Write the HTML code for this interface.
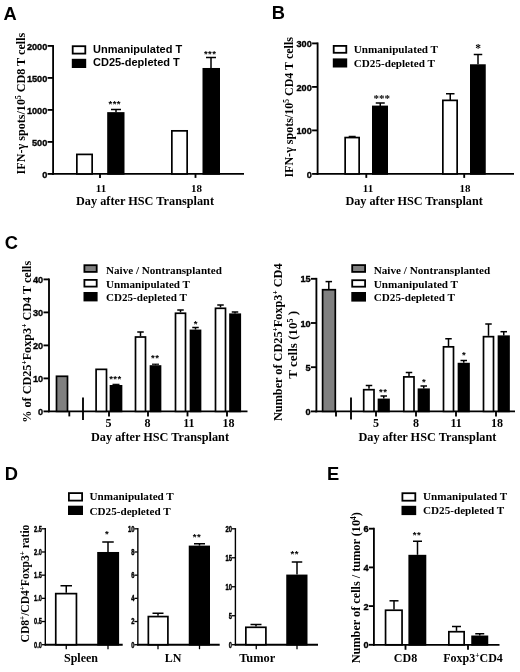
<!DOCTYPE html>
<html><head><meta charset="utf-8"><title>Figure</title>
<style>html,body{margin:0;padding:0;background:#fff}svg{display:block}text{fill:#000}</style>
</head><body>
<svg width="520" height="672" viewBox="0 0 520 672">
<rect width="520" height="672" fill="#fff"/>
<text transform="translate(3.6 19.6) scale(1.03 1)" font-family="'Liberation Sans', sans-serif" font-weight="bold" font-size="17.8">A</text>
<text transform="translate(271.8 19.1) scale(1.03 1)" font-family="'Liberation Sans', sans-serif" font-weight="bold" font-size="17.8">B</text>
<text transform="translate(4.800000000000001 248.79999999999998) scale(1.03 1)" font-family="'Liberation Sans', sans-serif" font-weight="bold" font-size="17.8">C</text>
<text transform="translate(4.800000000000001 479.6) scale(1.03 1)" font-family="'Liberation Sans', sans-serif" font-weight="bold" font-size="17.8">D</text>
<text transform="translate(326.90000000000003 479.8) scale(1.03 1)" font-family="'Liberation Sans', sans-serif" font-weight="bold" font-size="17.8">E</text>
<line x1="53.1" y1="45.075" x2="53.1" y2="174.82500000000002" stroke="#000" stroke-width="1.85"/>
<line x1="52.175000000000004" y1="173.9" x2="244" y2="173.9" stroke="#000" stroke-width="1.85"/>
<line x1="47.6" y1="173.9" x2="53.1" y2="173.9" stroke="#000" stroke-width="1.85"/>
<text x="47.300000000000004" y="177.5" font-family="'Liberation Sans', sans-serif" font-weight="bold" font-size="9.7" text-anchor="end" stroke="#000" stroke-width="0.35" textLength="5.1" lengthAdjust="spacingAndGlyphs">0</text>
<line x1="47.6" y1="141.9" x2="53.1" y2="141.9" stroke="#000" stroke-width="1.85"/>
<text x="47.300000000000004" y="145.5" font-family="'Liberation Sans', sans-serif" font-weight="bold" font-size="9.7" text-anchor="end" stroke="#000" stroke-width="0.35" textLength="15.3" lengthAdjust="spacingAndGlyphs">500</text>
<line x1="47.6" y1="109.9" x2="53.1" y2="109.9" stroke="#000" stroke-width="1.85"/>
<text x="47.300000000000004" y="113.5" font-family="'Liberation Sans', sans-serif" font-weight="bold" font-size="9.7" text-anchor="end" stroke="#000" stroke-width="0.35" textLength="20.4" lengthAdjust="spacingAndGlyphs">1000</text>
<line x1="47.6" y1="77.9" x2="53.1" y2="77.9" stroke="#000" stroke-width="1.85"/>
<text x="47.300000000000004" y="81.5" font-family="'Liberation Sans', sans-serif" font-weight="bold" font-size="9.7" text-anchor="end" stroke="#000" stroke-width="0.35" textLength="20.4" lengthAdjust="spacingAndGlyphs">1500</text>
<line x1="47.6" y1="45.900000000000006" x2="53.1" y2="45.900000000000006" stroke="#000" stroke-width="1.85"/>
<text x="47.300000000000004" y="49.50000000000001" font-family="'Liberation Sans', sans-serif" font-weight="bold" font-size="9.7" text-anchor="end" stroke="#000" stroke-width="0.35" textLength="20.4" lengthAdjust="spacingAndGlyphs">2000</text>
<line x1="100" y1="173.9" x2="100" y2="177.9" stroke="#000" stroke-width="1.85"/>
<line x1="195.5" y1="173.9" x2="195.5" y2="177.9" stroke="#000" stroke-width="1.85"/>
<rect x="76.85" y="154.398" width="15.3" height="19.502000000000002" fill="#fff" stroke="#000" stroke-width="1.7"/>
<rect x="108.05" y="112.99000000000001" width="15.599999999999998" height="60.90999999999999" fill="#000" stroke="#000" stroke-width="1.7"/>
<line x1="116" y1="109.5" x2="116" y2="112.14000000000001" stroke="#000" stroke-width="1.5"/>
<line x1="111.0" y1="109.5" x2="121.0" y2="109.5" stroke="#000" stroke-width="1.5"/>
<rect x="171.85" y="130.846" width="15.3" height="43.053999999999995" fill="#fff" stroke="#000" stroke-width="1.7"/>
<rect x="203.35" y="68.83" width="15.8" height="105.07000000000001" fill="#000" stroke="#000" stroke-width="1.7"/>
<line x1="211" y1="57.5" x2="211" y2="67.98" stroke="#000" stroke-width="1.5"/>
<line x1="206.0" y1="57.5" x2="216.0" y2="57.5" stroke="#000" stroke-width="1.5"/>
<text x="114.8" y="106.5" font-family="'Liberation Sans', sans-serif" font-weight="bold" font-size="9.6" text-anchor="middle" letter-spacing="0.4">***</text>
<text x="210.2" y="56.8" font-family="'Liberation Sans', sans-serif" font-weight="bold" font-size="9.6" text-anchor="middle" letter-spacing="0.4">***</text>
<text x="101" y="192" font-family="'Liberation Serif', serif" font-weight="bold" font-size="11" text-anchor="middle">11</text>
<text x="196.5" y="192" font-family="'Liberation Serif', serif" font-weight="bold" font-size="11" text-anchor="middle">18</text>
<text x="145" y="204.7" font-family="'Liberation Serif', serif" font-weight="bold" font-size="12.3" text-anchor="middle" textLength="138" lengthAdjust="spacingAndGlyphs">Day after HSC Transplant</text>
<text x="25.5" y="103.6" font-family="'Liberation Serif', serif" font-weight="bold" font-size="12.3" text-anchor="middle" transform="rotate(-90 25.5 103.6)" textLength="141.7" lengthAdjust="spacingAndGlyphs">IFN-γ spots/10<tspan dy="-4" font-size="7.5">5</tspan><tspan dy="4"> CD8 T cells</tspan></text>
<rect x="72.7" y="46.199999999999996" width="12.600000000000005" height="7.400000000000003" fill="#fff" stroke="#000" stroke-width="1.8"/>
<text x="93" y="53.44" font-family="'Liberation Sans', sans-serif" font-weight="bold" font-size="11" text-anchor="start">Unmanipulated T</text>
<rect x="72.7" y="59.699999999999996" width="12.600000000000005" height="7.400000000000003" fill="#000" stroke="#000" stroke-width="1.8"/>
<text x="93" y="66.34" font-family="'Liberation Sans', sans-serif" font-weight="bold" font-size="11" text-anchor="start">CD25-depleted T</text>
<line x1="317.6" y1="42.475" x2="317.6" y2="174.82500000000002" stroke="#000" stroke-width="1.85"/>
<line x1="316.675" y1="173.9" x2="514" y2="173.9" stroke="#000" stroke-width="1.85"/>
<line x1="312.1" y1="173.9" x2="317.6" y2="173.9" stroke="#000" stroke-width="1.85"/>
<text x="311.8" y="177.5" font-family="'Liberation Sans', sans-serif" font-weight="bold" font-size="9.7" text-anchor="end" stroke="#000" stroke-width="0.35" textLength="5.1" lengthAdjust="spacingAndGlyphs">0</text>
<line x1="312.1" y1="130.4" x2="317.6" y2="130.4" stroke="#000" stroke-width="1.85"/>
<text x="311.8" y="134.0" font-family="'Liberation Sans', sans-serif" font-weight="bold" font-size="9.7" text-anchor="end" stroke="#000" stroke-width="0.35" textLength="15.3" lengthAdjust="spacingAndGlyphs">100</text>
<line x1="312.1" y1="86.9" x2="317.6" y2="86.9" stroke="#000" stroke-width="1.85"/>
<text x="311.8" y="90.5" font-family="'Liberation Sans', sans-serif" font-weight="bold" font-size="9.7" text-anchor="end" stroke="#000" stroke-width="0.35" textLength="15.3" lengthAdjust="spacingAndGlyphs">200</text>
<line x1="312.1" y1="43.400000000000006" x2="317.6" y2="43.400000000000006" stroke="#000" stroke-width="1.85"/>
<text x="311.8" y="47.00000000000001" font-family="'Liberation Sans', sans-serif" font-weight="bold" font-size="9.7" text-anchor="end" stroke="#000" stroke-width="0.35" textLength="15.3" lengthAdjust="spacingAndGlyphs">300</text>
<line x1="366.3" y1="173.9" x2="366.3" y2="177.9" stroke="#000" stroke-width="1.85"/>
<line x1="464.2" y1="173.9" x2="464.2" y2="177.9" stroke="#000" stroke-width="1.85"/>
<rect x="345.15000000000003" y="137.5575" width="13.99999999999999" height="36.342499999999994" fill="#fff" stroke="#000" stroke-width="1.7"/>
<line x1="352.2" y1="136.3595" x2="352.2" y2="136.7075" stroke="#000" stroke-width="1.2"/>
<line x1="348.7" y1="136.3595" x2="355.7" y2="136.3595" stroke="#000" stroke-width="1.2"/>
<rect x="372.85" y="106.455" width="14.3" height="67.44500000000001" fill="#000" stroke="#000" stroke-width="1.7"/>
<line x1="380.25" y1="103" x2="380.25" y2="106.04" stroke="#000" stroke-width="1.5"/>
<line x1="375.75" y1="103" x2="384.75" y2="103" stroke="#000" stroke-width="1.5"/>
<rect x="442.85" y="100.365" width="14.3" height="73.53500000000001" fill="#fff" stroke="#000" stroke-width="1.7"/>
<line x1="450.25" y1="93.75" x2="450.25" y2="99.95" stroke="#000" stroke-width="1.5"/>
<line x1="446.0" y1="93.75" x2="454.5" y2="93.75" stroke="#000" stroke-width="1.5"/>
<rect x="470.85" y="65.13" width="14.05" height="108.77000000000001" fill="#000" stroke="#000" stroke-width="1.7"/>
<line x1="478" y1="54.5" x2="478" y2="64.28" stroke="#000" stroke-width="1.5"/>
<line x1="473.75" y1="54.5" x2="482.25" y2="54.5" stroke="#000" stroke-width="1.5"/>
<text x="381.8" y="102.4" font-family="'Liberation Serif', serif" font-weight="bold" font-size="11" text-anchor="middle">***</text>
<text x="478" y="51.8" font-family="'Liberation Serif', serif" font-weight="bold" font-size="11.5" text-anchor="middle">*</text>
<text x="368" y="192" font-family="'Liberation Serif', serif" font-weight="bold" font-size="11" text-anchor="middle">11</text>
<text x="465" y="192" font-family="'Liberation Serif', serif" font-weight="bold" font-size="11" text-anchor="middle">18</text>
<text x="414.1" y="204.7" font-family="'Liberation Serif', serif" font-weight="bold" font-size="12.3" text-anchor="middle" textLength="137.4" lengthAdjust="spacingAndGlyphs">Day after HSC Transplant</text>
<text x="293.1" y="107.3" font-family="'Liberation Serif', serif" font-weight="bold" font-size="12.2" text-anchor="middle" transform="rotate(-90 293.1 107.3)" textLength="140.6" lengthAdjust="spacingAndGlyphs">IFN-γ spots/10<tspan dy="-4" font-size="7.5">5</tspan><tspan dy="4"> CD4 T cells</tspan></text>
<rect x="333.7" y="45.9" width="12.599999999999977" height="6.900000000000003" fill="#fff" stroke="#000" stroke-width="1.8"/>
<text x="353.75" y="52.84100000000001" font-family="'Liberation Serif', serif" font-weight="bold" font-size="11.15" text-anchor="start">Unmanipulated T</text>
<rect x="333.7" y="59.3" width="12.599999999999977" height="7.300000000000002" fill="#000" stroke="#000" stroke-width="1.8"/>
<text x="353.75" y="66.941" font-family="'Liberation Serif', serif" font-weight="bold" font-size="11.15" text-anchor="start">CD25-depleted T</text>
<line x1="49" y1="278.47499999999997" x2="49" y2="412.325" stroke="#000" stroke-width="1.85"/>
<line x1="48.075" y1="411.4" x2="247.5" y2="411.4" stroke="#000" stroke-width="1.85"/>
<line x1="43.5" y1="411.4" x2="49" y2="411.4" stroke="#000" stroke-width="1.85"/>
<text x="43.2" y="415.0" font-family="'Liberation Sans', sans-serif" font-weight="bold" font-size="9.7" text-anchor="end" stroke="#000" stroke-width="0.35" textLength="5.1" lengthAdjust="spacingAndGlyphs">0</text>
<line x1="43.5" y1="378.4" x2="49" y2="378.4" stroke="#000" stroke-width="1.85"/>
<text x="43.2" y="382.0" font-family="'Liberation Sans', sans-serif" font-weight="bold" font-size="9.7" text-anchor="end" stroke="#000" stroke-width="0.35" textLength="10.2" lengthAdjust="spacingAndGlyphs">10</text>
<line x1="43.5" y1="345.4" x2="49" y2="345.4" stroke="#000" stroke-width="1.85"/>
<text x="43.2" y="349.0" font-family="'Liberation Sans', sans-serif" font-weight="bold" font-size="9.7" text-anchor="end" stroke="#000" stroke-width="0.35" textLength="10.2" lengthAdjust="spacingAndGlyphs">20</text>
<line x1="43.5" y1="312.4" x2="49" y2="312.4" stroke="#000" stroke-width="1.85"/>
<text x="43.2" y="316.0" font-family="'Liberation Sans', sans-serif" font-weight="bold" font-size="9.7" text-anchor="end" stroke="#000" stroke-width="0.35" textLength="10.2" lengthAdjust="spacingAndGlyphs">30</text>
<line x1="43.5" y1="279.4" x2="49" y2="279.4" stroke="#000" stroke-width="1.85"/>
<text x="43.2" y="283.0" font-family="'Liberation Sans', sans-serif" font-weight="bold" font-size="9.7" text-anchor="end" stroke="#000" stroke-width="0.35" textLength="10.2" lengthAdjust="spacingAndGlyphs">40</text>
<line x1="69.3" y1="411.4" x2="69.3" y2="416.4" stroke="#000" stroke-width="1.85"/>
<line x1="109" y1="411.4" x2="109" y2="416.4" stroke="#000" stroke-width="1.85"/>
<line x1="148" y1="411.4" x2="148" y2="416.4" stroke="#000" stroke-width="1.85"/>
<line x1="187.5" y1="411.4" x2="187.5" y2="416.4" stroke="#000" stroke-width="1.85"/>
<line x1="227" y1="411.4" x2="227" y2="416.4" stroke="#000" stroke-width="1.85"/>
<line x1="83" y1="397.5" x2="83" y2="420" stroke="#000" stroke-width="1.85"/>
<rect x="56.5" y="376.28" width="10.999999999999996" height="35.120000000000026" fill="#808080" stroke="#000" stroke-width="1.7"/>
<rect x="96.1" y="369.35" width="10.399999999999995" height="42.049999999999976" fill="#fff" stroke="#000" stroke-width="1.7"/>
<rect x="110.5" y="385.85" width="10.99999999999999" height="25.549999999999976" fill="#000" stroke="#000" stroke-width="1.7"/>
<line x1="116" y1="384.34" x2="116" y2="385.0" stroke="#000" stroke-width="1.2"/>
<line x1="112.5" y1="384.34" x2="119.5" y2="384.34" stroke="#000" stroke-width="1.2"/>
<rect x="135.5" y="337.01" width="9.99999999999999" height="74.39000000000001" fill="#fff" stroke="#000" stroke-width="1.7"/>
<line x1="140.5" y1="332" x2="140.5" y2="336.15999999999997" stroke="#000" stroke-width="1.5"/>
<line x1="137.25" y1="332" x2="143.75" y2="332" stroke="#000" stroke-width="1.5"/>
<rect x="150.5" y="366.05" width="9.99999999999999" height="45.34999999999999" fill="#000" stroke="#000" stroke-width="1.7"/>
<line x1="155.5" y1="364.21" x2="155.5" y2="365.2" stroke="#000" stroke-width="1.2"/>
<line x1="152.0" y1="364.21" x2="159.0" y2="364.21" stroke="#000" stroke-width="1.2"/>
<rect x="175.5" y="313.25" width="9.99999999999999" height="98.15" fill="#fff" stroke="#000" stroke-width="1.7"/>
<line x1="180.5" y1="310" x2="180.5" y2="312.4" stroke="#000" stroke-width="1.5"/>
<line x1="177.25" y1="310" x2="183.75" y2="310" stroke="#000" stroke-width="1.5"/>
<rect x="190.5" y="330.40999999999997" width="9.99999999999999" height="80.99000000000004" fill="#000" stroke="#000" stroke-width="1.7"/>
<line x1="195.5" y1="327.5" x2="195.5" y2="329.55999999999995" stroke="#000" stroke-width="1.5"/>
<line x1="192.25" y1="327.5" x2="198.75" y2="327.5" stroke="#000" stroke-width="1.5"/>
<rect x="215.5" y="308.3" width="9.99999999999999" height="103.1" fill="#fff" stroke="#000" stroke-width="1.7"/>
<line x1="220.5" y1="305" x2="220.5" y2="307.45" stroke="#000" stroke-width="1.5"/>
<line x1="217.25" y1="305" x2="223.75" y2="305" stroke="#000" stroke-width="1.5"/>
<rect x="230.0" y="314.24" width="10.24999999999999" height="97.16" fill="#000" stroke="#000" stroke-width="1.7"/>
<line x1="235" y1="312" x2="235" y2="313.39" stroke="#000" stroke-width="1.5"/>
<line x1="231.75" y1="312" x2="238.25" y2="312" stroke="#000" stroke-width="1.5"/>
<text x="115.4" y="381.8" font-family="'Liberation Sans', sans-serif" font-weight="bold" font-size="9.6" text-anchor="middle" letter-spacing="0.4">***</text>
<text x="155.2" y="361.05" font-family="'Liberation Sans', sans-serif" font-weight="bold" font-size="9.6" text-anchor="middle" letter-spacing="0.4">**</text>
<text x="195.7" y="327.0" font-family="'Liberation Sans', sans-serif" font-weight="bold" font-size="9.6" text-anchor="middle" letter-spacing="0.4">*</text>
<text x="108.5" y="427" font-family="'Liberation Serif', serif" font-weight="bold" font-size="12" text-anchor="middle">5</text>
<text x="147.4" y="427" font-family="'Liberation Serif', serif" font-weight="bold" font-size="12" text-anchor="middle">8</text>
<text x="188.8" y="427" font-family="'Liberation Serif', serif" font-weight="bold" font-size="12" text-anchor="middle">11</text>
<text x="228.5" y="427" font-family="'Liberation Serif', serif" font-weight="bold" font-size="12" text-anchor="middle">18</text>
<text x="160" y="441.4" font-family="'Liberation Serif', serif" font-weight="bold" font-size="12.3" text-anchor="middle" textLength="138" lengthAdjust="spacingAndGlyphs">Day after HSC Transplant</text>
<text x="30.5" y="341.75" font-family="'Liberation Serif', serif" font-weight="bold" font-size="12.3" text-anchor="middle" transform="rotate(-90 30.5 341.75)" textLength="162" lengthAdjust="spacingAndGlyphs">% of CD25<tspan dy="-4" font-size="7.5">+</tspan><tspan dy="4">Foxp3</tspan><tspan dy="-4" font-size="7.5">+</tspan><tspan dy="4"> CD4 T cells</tspan></text>
<rect x="84.4" y="265.2" width="12.299999999999994" height="6.7" fill="#808080" stroke="#000" stroke-width="1.8"/>
<text x="106" y="273.92400000000004" font-family="'Liberation Serif', serif" font-weight="bold" font-size="11.1" text-anchor="start">Naive / Nontransplanted</text>
<rect x="84.4" y="279.9" width="12.299999999999994" height="6.7" fill="#fff" stroke="#000" stroke-width="1.8"/>
<text x="106" y="287.724" font-family="'Liberation Serif', serif" font-weight="bold" font-size="11.1" text-anchor="start">Unmanipulated T</text>
<rect x="84.4" y="292.9" width="12.299999999999994" height="7.599999999999977" fill="#000" stroke="#000" stroke-width="1.8"/>
<text x="106" y="301.074" font-family="'Liberation Serif', serif" font-weight="bold" font-size="11.1" text-anchor="start">CD25-depleted T</text>
<line x1="316.4" y1="277.875" x2="316.4" y2="412.325" stroke="#000" stroke-width="1.85"/>
<line x1="315.47499999999997" y1="411.4" x2="515" y2="411.4" stroke="#000" stroke-width="1.85"/>
<line x1="310.9" y1="411.4" x2="316.4" y2="411.4" stroke="#000" stroke-width="1.85"/>
<text x="310.59999999999997" y="415.0" font-family="'Liberation Sans', sans-serif" font-weight="bold" font-size="9.7" text-anchor="end" stroke="#000" stroke-width="0.35" textLength="5.1" lengthAdjust="spacingAndGlyphs">0</text>
<line x1="310.9" y1="367.2" x2="316.4" y2="367.2" stroke="#000" stroke-width="1.85"/>
<text x="310.59999999999997" y="370.8" font-family="'Liberation Sans', sans-serif" font-weight="bold" font-size="9.7" text-anchor="end" stroke="#000" stroke-width="0.35" textLength="5.1" lengthAdjust="spacingAndGlyphs">5</text>
<line x1="310.9" y1="323.0" x2="316.4" y2="323.0" stroke="#000" stroke-width="1.85"/>
<text x="310.59999999999997" y="326.6" font-family="'Liberation Sans', sans-serif" font-weight="bold" font-size="9.7" text-anchor="end" stroke="#000" stroke-width="0.35" textLength="10.2" lengthAdjust="spacingAndGlyphs">10</text>
<line x1="310.9" y1="278.79999999999995" x2="316.4" y2="278.79999999999995" stroke="#000" stroke-width="1.85"/>
<text x="310.59999999999997" y="282.4" font-family="'Liberation Sans', sans-serif" font-weight="bold" font-size="9.7" text-anchor="end" stroke="#000" stroke-width="0.35" textLength="10.2" lengthAdjust="spacingAndGlyphs">15</text>
<line x1="336" y1="411.4" x2="336" y2="416.4" stroke="#000" stroke-width="1.85"/>
<line x1="376" y1="411.4" x2="376" y2="416.4" stroke="#000" stroke-width="1.85"/>
<line x1="416" y1="411.4" x2="416" y2="416.4" stroke="#000" stroke-width="1.85"/>
<line x1="456" y1="411.4" x2="456" y2="416.4" stroke="#000" stroke-width="1.85"/>
<line x1="496" y1="411.4" x2="496" y2="416.4" stroke="#000" stroke-width="1.85"/>
<line x1="351" y1="397.5" x2="351" y2="419.5" stroke="#000" stroke-width="1.85"/>
<rect x="322.6" y="289.7276" width="12.700000000000035" height="121.67240000000001" fill="#808080" stroke="#000" stroke-width="1.7"/>
<line x1="328.8" y1="281.6" x2="328.8" y2="288.8776" stroke="#000" stroke-width="1.5"/>
<line x1="325.55" y1="281.6" x2="332.05" y2="281.6" stroke="#000" stroke-width="1.5"/>
<rect x="363.7" y="389.708" width="10.300000000000058" height="21.69199999999997" fill="#fff" stroke="#000" stroke-width="1.7"/>
<line x1="369" y1="385.5" x2="369" y2="388.858" stroke="#000" stroke-width="1.5"/>
<line x1="365.75" y1="385.5" x2="372.25" y2="385.5" stroke="#000" stroke-width="1.5"/>
<rect x="378.5" y="399.432" width="10.500000000000046" height="11.967999999999984" fill="#000" stroke="#000" stroke-width="1.7"/>
<line x1="383.75" y1="396" x2="383.75" y2="398.582" stroke="#000" stroke-width="1.5"/>
<line x1="380.5" y1="396" x2="387.0" y2="396" stroke="#000" stroke-width="1.5"/>
<rect x="403.8" y="376.89" width="10.200000000000035" height="34.51000000000001" fill="#fff" stroke="#000" stroke-width="1.7"/>
<line x1="409" y1="372.5" x2="409" y2="376.03999999999996" stroke="#000" stroke-width="1.5"/>
<line x1="405.75" y1="372.5" x2="412.25" y2="372.5" stroke="#000" stroke-width="1.5"/>
<rect x="418.5" y="389.266" width="10.500000000000046" height="22.13399999999998" fill="#000" stroke="#000" stroke-width="1.7"/>
<line x1="423.75" y1="386" x2="423.75" y2="388.416" stroke="#000" stroke-width="1.5"/>
<line x1="420.5" y1="386" x2="427.0" y2="386" stroke="#000" stroke-width="1.5"/>
<rect x="443.5" y="346.834" width="10.000000000000046" height="64.566" fill="#fff" stroke="#000" stroke-width="1.7"/>
<line x1="448.5" y1="338.75" x2="448.5" y2="345.984" stroke="#000" stroke-width="1.5"/>
<line x1="445.25" y1="338.75" x2="451.75" y2="338.75" stroke="#000" stroke-width="1.5"/>
<rect x="458.5" y="363.63" width="10.500000000000046" height="47.77" fill="#000" stroke="#000" stroke-width="1.7"/>
<line x1="463.75" y1="360.5" x2="463.75" y2="362.78" stroke="#000" stroke-width="1.5"/>
<line x1="460.5" y1="360.5" x2="467.0" y2="360.5" stroke="#000" stroke-width="1.5"/>
<rect x="483.5" y="336.668" width="10.000000000000046" height="74.732" fill="#fff" stroke="#000" stroke-width="1.7"/>
<line x1="488.5" y1="324" x2="488.5" y2="335.818" stroke="#000" stroke-width="1.5"/>
<line x1="485.25" y1="324" x2="491.75" y2="324" stroke="#000" stroke-width="1.5"/>
<rect x="498.5" y="336.226" width="10.500000000000046" height="75.174" fill="#000" stroke="#000" stroke-width="1.7"/>
<line x1="503.75" y1="331.7" x2="503.75" y2="335.376" stroke="#000" stroke-width="1.5"/>
<line x1="500.5" y1="331.7" x2="507.0" y2="331.7" stroke="#000" stroke-width="1.5"/>
<text x="383.2" y="395.3" font-family="'Liberation Sans', sans-serif" font-weight="bold" font-size="9.6" text-anchor="middle" letter-spacing="0.4">**</text>
<text x="423.95" y="384.5" font-family="'Liberation Sans', sans-serif" font-weight="bold" font-size="9.6" text-anchor="middle" letter-spacing="0.4">*</text>
<text x="463.95" y="357.5" font-family="'Liberation Sans', sans-serif" font-weight="bold" font-size="9.6" text-anchor="middle" letter-spacing="0.4">*</text>
<text x="376" y="427" font-family="'Liberation Serif', serif" font-weight="bold" font-size="12" text-anchor="middle">5</text>
<text x="415.9" y="427" font-family="'Liberation Serif', serif" font-weight="bold" font-size="12" text-anchor="middle">8</text>
<text x="456.2" y="427" font-family="'Liberation Serif', serif" font-weight="bold" font-size="12" text-anchor="middle">11</text>
<text x="497" y="427" font-family="'Liberation Serif', serif" font-weight="bold" font-size="12" text-anchor="middle">18</text>
<text x="427.4" y="441.4" font-family="'Liberation Serif', serif" font-weight="bold" font-size="12.3" text-anchor="middle" textLength="138" lengthAdjust="spacingAndGlyphs">Day after HSC Transplant</text>
<text x="282.5" y="342.2" font-family="'Liberation Serif', serif" font-weight="bold" font-size="12.3" text-anchor="middle" transform="rotate(-90 282.5 342.2)" textLength="157.6" lengthAdjust="spacingAndGlyphs">Number of CD25<tspan dy="-4" font-size="7.5">+</tspan><tspan dy="4">Foxp3</tspan><tspan dy="-4" font-size="7.5">+</tspan><tspan dy="4"> CD4</tspan></text>
<text x="297.5" y="344.8" font-family="'Liberation Serif', serif" font-weight="bold" font-size="12.3" text-anchor="middle" transform="rotate(-90 297.5 344.8)" textLength="68" lengthAdjust="spacingAndGlyphs">T cells (10<tspan dy="-4" font-size="7.5">5</tspan><tspan dy="4"> )</tspan></text>
<rect x="352.2" y="265.09999999999997" width="12.899999999999988" height="6.800000000000023" fill="#808080" stroke="#000" stroke-width="1.8"/>
<text x="373.75" y="273.891" font-family="'Liberation Serif', serif" font-weight="bold" font-size="11.15" text-anchor="start">Naive / Nontransplanted</text>
<rect x="352.2" y="280.2" width="12.899999999999988" height="6.5000000000000115" fill="#fff" stroke="#000" stroke-width="1.8"/>
<text x="373.75" y="288.04100000000005" font-family="'Liberation Serif', serif" font-weight="bold" font-size="11.15" text-anchor="start">Unmanipulated T</text>
<rect x="352.2" y="292.9" width="12.899999999999988" height="7.800000000000023" fill="#000" stroke="#000" stroke-width="1.8"/>
<text x="373.75" y="301.091" font-family="'Liberation Serif', serif" font-weight="bold" font-size="11.15" text-anchor="start">CD25-depleted T</text>
<line x1="45.3" y1="528.0999999999999" x2="45.3" y2="645.4000000000001" stroke="#000" stroke-width="1.4"/>
<line x1="44.599999999999994" y1="644.7" x2="122.7" y2="644.7" stroke="#000" stroke-width="1.85"/>
<line x1="41.8" y1="644.7" x2="45.3" y2="644.7" stroke="#000" stroke-width="1.3"/>
<text x="41.9" y="647.5" font-family="'Liberation Sans', sans-serif" font-weight="bold" font-size="8.4" text-anchor="end" stroke="#000" stroke-width="0.45" textLength="7.8" lengthAdjust="spacingAndGlyphs">0.0</text>
<line x1="41.8" y1="621.52" x2="45.3" y2="621.52" stroke="#000" stroke-width="1.3"/>
<text x="41.9" y="624.3199999999999" font-family="'Liberation Sans', sans-serif" font-weight="bold" font-size="8.4" text-anchor="end" stroke="#000" stroke-width="0.45" textLength="7.8" lengthAdjust="spacingAndGlyphs">0.5</text>
<line x1="41.8" y1="598.34" x2="45.3" y2="598.34" stroke="#000" stroke-width="1.3"/>
<text x="41.9" y="601.14" font-family="'Liberation Sans', sans-serif" font-weight="bold" font-size="8.4" text-anchor="end" stroke="#000" stroke-width="0.45" textLength="7.8" lengthAdjust="spacingAndGlyphs">1.0</text>
<line x1="41.8" y1="575.16" x2="45.3" y2="575.16" stroke="#000" stroke-width="1.3"/>
<text x="41.9" y="577.9599999999999" font-family="'Liberation Sans', sans-serif" font-weight="bold" font-size="8.4" text-anchor="end" stroke="#000" stroke-width="0.45" textLength="7.8" lengthAdjust="spacingAndGlyphs">1.5</text>
<line x1="41.8" y1="551.98" x2="45.3" y2="551.98" stroke="#000" stroke-width="1.3"/>
<text x="41.9" y="554.78" font-family="'Liberation Sans', sans-serif" font-weight="bold" font-size="8.4" text-anchor="end" stroke="#000" stroke-width="0.45" textLength="7.8" lengthAdjust="spacingAndGlyphs">2.0</text>
<line x1="41.8" y1="528.8" x2="45.3" y2="528.8" stroke="#000" stroke-width="1.3"/>
<text x="41.9" y="531.5999999999999" font-family="'Liberation Sans', sans-serif" font-weight="bold" font-size="8.4" text-anchor="end" stroke="#000" stroke-width="0.45" textLength="7.8" lengthAdjust="spacingAndGlyphs">2.5</text>
<line x1="66.25" y1="644.7" x2="66.25" y2="649.2" stroke="#000" stroke-width="1.3"/>
<line x1="108" y1="644.7" x2="108" y2="649.2" stroke="#000" stroke-width="1.3"/>
<rect x="55.75" y="593.6268000000001" width="20.7" height="51.07319999999995" fill="#fff" stroke="#000" stroke-width="1.7"/>
<line x1="66.25" y1="585.75" x2="66.25" y2="592.7768000000001" stroke="#000" stroke-width="1.5"/>
<line x1="60.5" y1="585.75" x2="72.0" y2="585.75" stroke="#000" stroke-width="1.5"/>
<rect x="98.05" y="552.83" width="20.199999999999992" height="91.87000000000003" fill="#000" stroke="#000" stroke-width="1.7"/>
<line x1="108" y1="542" x2="108" y2="551.98" stroke="#000" stroke-width="1.5"/>
<line x1="102.25" y1="542" x2="113.75" y2="542" stroke="#000" stroke-width="1.5"/>
<text x="106.95" y="537.0" font-family="'Liberation Sans', sans-serif" font-weight="bold" font-size="9.6" text-anchor="middle" letter-spacing="0.4">*</text>
<text x="81" y="662" font-family="'Liberation Serif', serif" font-weight="bold" font-size="12" text-anchor="middle">Spleen</text>
<line x1="137.85" y1="528.0999999999999" x2="137.85" y2="645.4000000000001" stroke="#000" stroke-width="1.4"/>
<line x1="137.15" y1="644.7" x2="219.7" y2="644.7" stroke="#000" stroke-width="1.85"/>
<line x1="134.35" y1="644.7" x2="137.85" y2="644.7" stroke="#000" stroke-width="1.3"/>
<text x="134.45" y="647.5" font-family="'Liberation Sans', sans-serif" font-weight="bold" font-size="8.4" text-anchor="end" stroke="#000" stroke-width="0.45" textLength="3.2" lengthAdjust="spacingAndGlyphs">0</text>
<line x1="134.35" y1="621.52" x2="137.85" y2="621.52" stroke="#000" stroke-width="1.3"/>
<text x="134.45" y="624.3199999999999" font-family="'Liberation Sans', sans-serif" font-weight="bold" font-size="8.4" text-anchor="end" stroke="#000" stroke-width="0.45" textLength="3.2" lengthAdjust="spacingAndGlyphs">2</text>
<line x1="134.35" y1="598.34" x2="137.85" y2="598.34" stroke="#000" stroke-width="1.3"/>
<text x="134.45" y="601.14" font-family="'Liberation Sans', sans-serif" font-weight="bold" font-size="8.4" text-anchor="end" stroke="#000" stroke-width="0.45" textLength="3.2" lengthAdjust="spacingAndGlyphs">4</text>
<line x1="134.35" y1="575.16" x2="137.85" y2="575.16" stroke="#000" stroke-width="1.3"/>
<text x="134.45" y="577.9599999999999" font-family="'Liberation Sans', sans-serif" font-weight="bold" font-size="8.4" text-anchor="end" stroke="#000" stroke-width="0.45" textLength="3.2" lengthAdjust="spacingAndGlyphs">6</text>
<line x1="134.35" y1="551.98" x2="137.85" y2="551.98" stroke="#000" stroke-width="1.3"/>
<text x="134.45" y="554.78" font-family="'Liberation Sans', sans-serif" font-weight="bold" font-size="8.4" text-anchor="end" stroke="#000" stroke-width="0.45" textLength="3.2" lengthAdjust="spacingAndGlyphs">8</text>
<line x1="134.35" y1="528.8" x2="137.85" y2="528.8" stroke="#000" stroke-width="1.3"/>
<text x="134.45" y="531.5999999999999" font-family="'Liberation Sans', sans-serif" font-weight="bold" font-size="8.4" text-anchor="end" stroke="#000" stroke-width="0.45" textLength="6.5" lengthAdjust="spacingAndGlyphs">10</text>
<line x1="158" y1="644.7" x2="158" y2="649.2" stroke="#000" stroke-width="1.3"/>
<line x1="199.5" y1="644.7" x2="199.5" y2="649.2" stroke="#000" stroke-width="1.3"/>
<rect x="148.35" y="616.575" width="19.55" height="28.12500000000002" fill="#fff" stroke="#000" stroke-width="1.7"/>
<line x1="158" y1="613.25" x2="158" y2="615.725" stroke="#000" stroke-width="1.5"/>
<line x1="152.5" y1="613.25" x2="163.5" y2="613.25" stroke="#000" stroke-width="1.5"/>
<rect x="189.6" y="546.4555" width="19.55" height="98.24450000000004" fill="#000" stroke="#000" stroke-width="1.7"/>
<line x1="199.5" y1="543.75" x2="199.5" y2="545.6055" stroke="#000" stroke-width="1.5"/>
<line x1="194.0" y1="543.75" x2="205.0" y2="543.75" stroke="#000" stroke-width="1.5"/>
<text x="196.95" y="539.8" font-family="'Liberation Sans', sans-serif" font-weight="bold" font-size="9.6" text-anchor="middle" letter-spacing="0.4">**</text>
<text x="173" y="662" font-family="'Liberation Serif', serif" font-weight="bold" font-size="12" text-anchor="middle">LN</text>
<line x1="235.4" y1="528.0999999999999" x2="235.4" y2="645.4000000000001" stroke="#000" stroke-width="1.4"/>
<line x1="234.70000000000002" y1="644.7" x2="318" y2="644.7" stroke="#000" stroke-width="1.85"/>
<line x1="231.9" y1="644.7" x2="235.4" y2="644.7" stroke="#000" stroke-width="1.3"/>
<text x="232.0" y="647.5" font-family="'Liberation Sans', sans-serif" font-weight="bold" font-size="8.4" text-anchor="end" stroke="#000" stroke-width="0.45" textLength="3.2" lengthAdjust="spacingAndGlyphs">0</text>
<line x1="231.9" y1="615.725" x2="235.4" y2="615.725" stroke="#000" stroke-width="1.3"/>
<text x="232.0" y="618.525" font-family="'Liberation Sans', sans-serif" font-weight="bold" font-size="8.4" text-anchor="end" stroke="#000" stroke-width="0.45" textLength="3.2" lengthAdjust="spacingAndGlyphs">5</text>
<line x1="231.9" y1="586.75" x2="235.4" y2="586.75" stroke="#000" stroke-width="1.3"/>
<text x="232.0" y="589.55" font-family="'Liberation Sans', sans-serif" font-weight="bold" font-size="8.4" text-anchor="end" stroke="#000" stroke-width="0.45" textLength="6.5" lengthAdjust="spacingAndGlyphs">10</text>
<line x1="231.9" y1="557.775" x2="235.4" y2="557.775" stroke="#000" stroke-width="1.3"/>
<text x="232.0" y="560.5749999999999" font-family="'Liberation Sans', sans-serif" font-weight="bold" font-size="8.4" text-anchor="end" stroke="#000" stroke-width="0.45" textLength="6.5" lengthAdjust="spacingAndGlyphs">15</text>
<line x1="231.9" y1="528.8" x2="235.4" y2="528.8" stroke="#000" stroke-width="1.3"/>
<text x="232.0" y="531.5999999999999" font-family="'Liberation Sans', sans-serif" font-weight="bold" font-size="8.4" text-anchor="end" stroke="#000" stroke-width="0.45" textLength="6.5" lengthAdjust="spacingAndGlyphs">20</text>
<line x1="256.25" y1="644.7" x2="256.25" y2="649.2" stroke="#000" stroke-width="1.3"/>
<line x1="297" y1="644.7" x2="297" y2="649.2" stroke="#000" stroke-width="1.3"/>
<rect x="245.85" y="627.2957500000001" width="20.05" height="17.404249999999955" fill="#fff" stroke="#000" stroke-width="1.7"/>
<line x1="256" y1="624.5" x2="256" y2="626.4457500000001" stroke="#000" stroke-width="1.5"/>
<line x1="250.5" y1="624.5" x2="261.5" y2="624.5" stroke="#000" stroke-width="1.5"/>
<rect x="287.1" y="575.4305" width="19.55" height="69.26950000000002" fill="#000" stroke="#000" stroke-width="1.7"/>
<line x1="297" y1="562" x2="297" y2="574.5805" stroke="#000" stroke-width="1.5"/>
<line x1="291.75" y1="562" x2="302.25" y2="562" stroke="#000" stroke-width="1.5"/>
<text x="294.7" y="556.8" font-family="'Liberation Sans', sans-serif" font-weight="bold" font-size="9.6" text-anchor="middle" letter-spacing="0.4">**</text>
<text x="257.2" y="662" font-family="'Liberation Serif', serif" font-weight="bold" font-size="12.4" text-anchor="middle">Tumor</text>
<text x="29.2" y="583.5" font-family="'Liberation Serif', serif" font-weight="bold" font-size="12.3" text-anchor="middle" transform="rotate(-90 29.2 583.5)" textLength="117.8" lengthAdjust="spacingAndGlyphs">CD8<tspan dy="-4" font-size="7.5">+</tspan><tspan dy="4">/CD4</tspan><tspan dy="-4" font-size="7.5">+</tspan><tspan dy="4">Foxp3</tspan><tspan dy="-4" font-size="7.5">+</tspan><tspan dy="4"> ratio</tspan></text>
<rect x="68.9" y="493.09999999999997" width="13.2" height="7.5000000000000115" fill="#fff" stroke="#000" stroke-width="1.8"/>
<text x="89.5" y="500.141" font-family="'Liberation Serif', serif" font-weight="bold" font-size="11.15" text-anchor="start">Unmanipulated T</text>
<rect x="68.9" y="506.59999999999997" width="13.2" height="7.5000000000000115" fill="#000" stroke="#000" stroke-width="1.8"/>
<text x="89.5" y="514.8410000000001" font-family="'Liberation Serif', serif" font-weight="bold" font-size="11.15" text-anchor="start">CD25-depleted T</text>
<line x1="373.9" y1="527.7750000000001" x2="373.9" y2="645.7249999999999" stroke="#000" stroke-width="1.85"/>
<line x1="372.97499999999997" y1="644.8" x2="499.5" y2="644.8" stroke="#000" stroke-width="1.85"/>
<line x1="368.9" y1="644.8" x2="373.9" y2="644.8" stroke="#000" stroke-width="1.85"/>
<text x="368.59999999999997" y="648.4" font-family="'Liberation Sans', sans-serif" font-weight="bold" font-size="9.7" text-anchor="end" stroke="#000" stroke-width="0.35" textLength="5.1" lengthAdjust="spacingAndGlyphs">0</text>
<line x1="368.9" y1="606.0999999999999" x2="373.9" y2="606.0999999999999" stroke="#000" stroke-width="1.85"/>
<text x="368.59999999999997" y="609.6999999999999" font-family="'Liberation Sans', sans-serif" font-weight="bold" font-size="9.7" text-anchor="end" stroke="#000" stroke-width="0.35" textLength="5.1" lengthAdjust="spacingAndGlyphs">2</text>
<line x1="368.9" y1="567.4" x2="373.9" y2="567.4" stroke="#000" stroke-width="1.85"/>
<text x="368.59999999999997" y="571.0" font-family="'Liberation Sans', sans-serif" font-weight="bold" font-size="9.7" text-anchor="end" stroke="#000" stroke-width="0.35" textLength="5.1" lengthAdjust="spacingAndGlyphs">4</text>
<line x1="368.9" y1="528.6999999999999" x2="373.9" y2="528.6999999999999" stroke="#000" stroke-width="1.85"/>
<text x="368.59999999999997" y="532.3" font-family="'Liberation Sans', sans-serif" font-weight="bold" font-size="9.7" text-anchor="end" stroke="#000" stroke-width="0.35" textLength="5.1" lengthAdjust="spacingAndGlyphs">6</text>
<line x1="405.5" y1="644.8" x2="405.5" y2="649.8" stroke="#000" stroke-width="1.85"/>
<line x1="468" y1="644.8" x2="468" y2="649.8" stroke="#000" stroke-width="1.85"/>
<rect x="385.55" y="610.2395" width="16.49999999999999" height="34.560499999999955" fill="#fff" stroke="#000" stroke-width="1.7"/>
<line x1="394" y1="600.8" x2="394" y2="609.3895" stroke="#000" stroke-width="1.5"/>
<line x1="389.5" y1="600.8" x2="398.5" y2="600.8" stroke="#000" stroke-width="1.5"/>
<rect x="409.25" y="555.6725" width="16.200000000000035" height="89.12749999999997" fill="#000" stroke="#000" stroke-width="1.7"/>
<line x1="417.5" y1="541.25" x2="417.5" y2="554.8225" stroke="#000" stroke-width="1.5"/>
<line x1="413.0" y1="541.25" x2="422.0" y2="541.25" stroke="#000" stroke-width="1.5"/>
<rect x="448.85" y="631.718" width="15.3" height="13.082000000000017" fill="#fff" stroke="#000" stroke-width="1.7"/>
<line x1="456.5" y1="626.5" x2="456.5" y2="630.8679999999999" stroke="#000" stroke-width="1.5"/>
<line x1="452.0" y1="626.5" x2="461.0" y2="626.5" stroke="#000" stroke-width="1.5"/>
<rect x="472.1" y="636.362" width="15.3" height="8.438000000000011" fill="#000" stroke="#000" stroke-width="1.7"/>
<line x1="479.75" y1="633.75" x2="479.75" y2="635.512" stroke="#000" stroke-width="1.5"/>
<line x1="475.25" y1="633.75" x2="484.25" y2="633.75" stroke="#000" stroke-width="1.5"/>
<text x="416.95" y="538.0999999999999" font-family="'Liberation Sans', sans-serif" font-weight="bold" font-size="9.6" text-anchor="middle" letter-spacing="0.4">**</text>
<text x="405.5" y="662" font-family="'Liberation Serif', serif" font-weight="bold" font-size="12" text-anchor="middle">CD8</text>
<text x="473" y="662" font-family="'Liberation Serif', serif" font-weight="bold" font-size="12" text-anchor="middle">Foxp3<tspan dy="-4" font-size="7.5">+</tspan><tspan dy="4">CD4</tspan></text>
<text x="359.5" y="587.75" font-family="'Liberation Serif', serif" font-weight="bold" font-size="12.7" text-anchor="middle" transform="rotate(-90 359.5 587.75)" textLength="151" lengthAdjust="spacingAndGlyphs">Number of cells / tumor (10<tspan dy="-4" font-size="7.5">4</tspan><tspan dy="4">)</tspan></text>
<rect x="402.4" y="493.2" width="12.899999999999988" height="7.5000000000000115" fill="#fff" stroke="#000" stroke-width="1.8"/>
<text x="423" y="500.04100000000005" font-family="'Liberation Serif', serif" font-weight="bold" font-size="11.15" text-anchor="start">Unmanipulated T</text>
<rect x="402.4" y="506.7" width="12.899999999999988" height="7.5000000000000115" fill="#000" stroke="#000" stroke-width="1.8"/>
<text x="423" y="514.4410000000001" font-family="'Liberation Serif', serif" font-weight="bold" font-size="11.15" text-anchor="start">CD25-depleted T</text>
</svg>
</body></html>
